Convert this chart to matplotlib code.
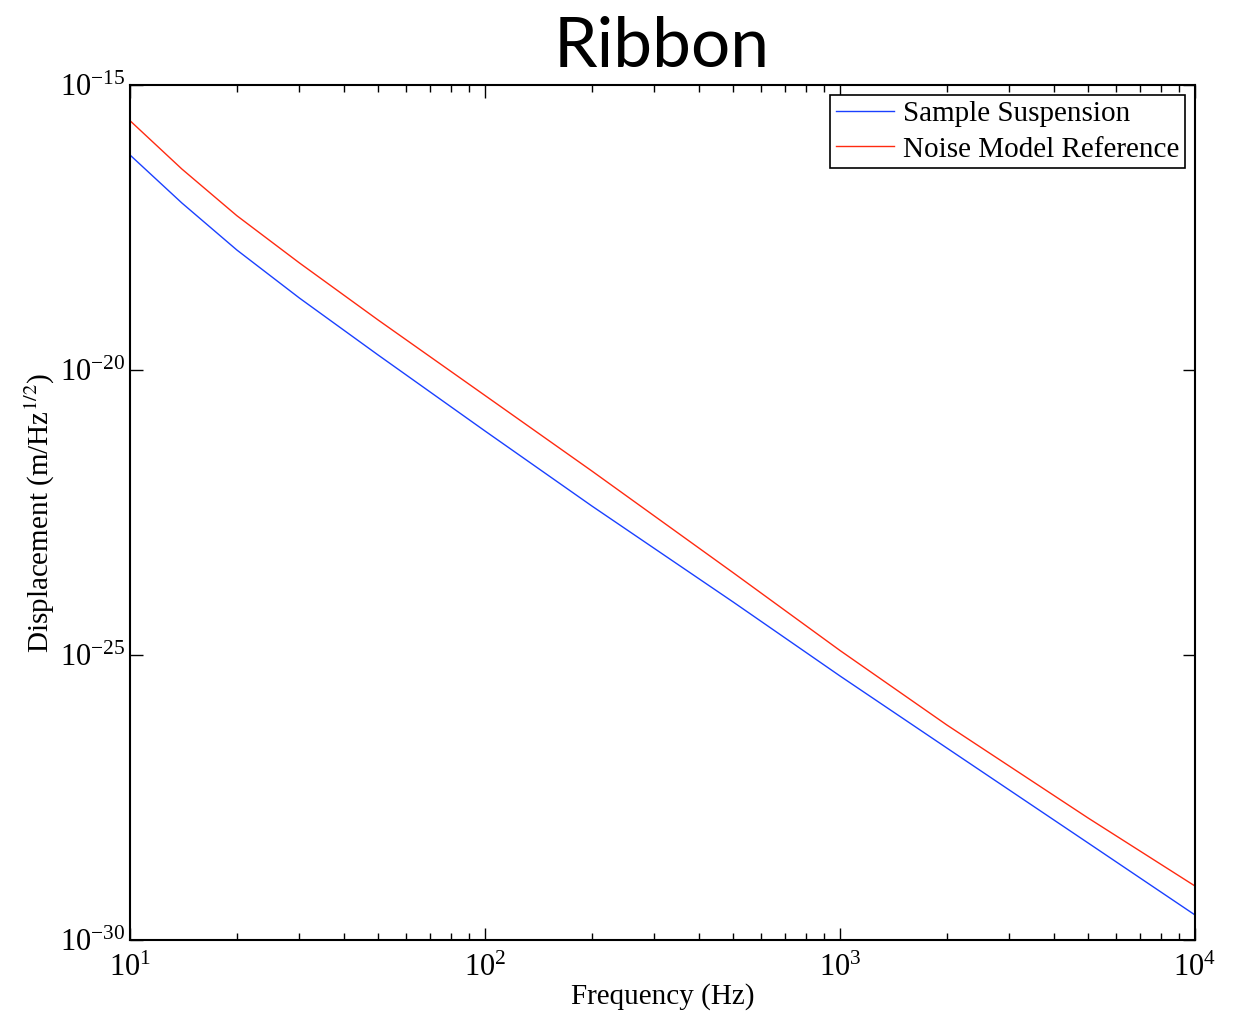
import numpy as np
import matplotlib
matplotlib.use("Agg")
import matplotlib.pyplot as plt
from matplotlib.ticker import LogLocator, NullLocator, FixedLocator, LogFormatterMathtext

# values (log10 of displacement, m/Hz^1/2)
freq = [10, 14, 20, 30, 50, 100, 200, 500, 1000, 2000, 5000, 10000]
sample_log = [-16.228, -17.070, -17.895, -18.737, -19.737, -21.070, -22.386,
              -24.070, -25.368, -26.632, -28.298, -29.561]
model_log = [-15.626, -16.474, -17.293, -18.121, -19.123, -20.447, -21.772,
             -23.556, -24.921, -26.228, -27.860, -29.053]

sample = 10.0 ** np.array(sample_log)
model = 10.0 ** np.array(model_log)

plt.rcParams['font.family'] = ['Liberation Serif', 'DejaVu Serif']
plt.rcParams['mathtext.fontset'] = 'stix'

fig = plt.figure(figsize=(12.39, 10.15), dpi=100)
ax = fig.add_axes([130/1239, 1 - 940/1015, (1195-130)/1239, (940-85)/1015])

ax.loglog(freq, sample, color='#1a40ff', lw=1.0, label='Sample Suspension')
ax.loglog(freq, model, color='#ff2a10', lw=1.0, label='Noise Model Reference')

ax.set_xlim(10, 1e4)
ax.set_ylim(1e-30, 1e-15)
ax.yaxis.set_major_locator(FixedLocator([1e-30, 1e-25, 1e-20, 1e-15]))
ax.yaxis.set_major_formatter(LogFormatterMathtext())
ax.yaxis.set_minor_locator(NullLocator())
ax.xaxis.set_major_locator(LogLocator(base=10))
ax.xaxis.set_minor_locator(LogLocator(base=10, subs=np.arange(2, 10)))

ax.tick_params(which='both', direction='in', top=True, right=True, labelsize=22)
ax.tick_params(which='major', length=9, width=1)
ax.tick_params(which='minor', length=5, width=1)
ax.tick_params(axis='x', pad=10)
for s in ax.spines.values():
    s.set_linewidth(1.5)

ax.set_xlabel('Frequency (Hz)', fontsize=21, labelpad=0)
ax.set_ylabel(r'Displacement (m/Hz$^{1/2}$)', fontsize=21, labelpad=2)

leg = ax.legend(loc='upper right', fontsize=21, fancybox=False, framealpha=1,
                edgecolor='black', borderaxespad=0.35, handlelength=2.0,
                handletextpad=0.3, borderpad=0.2, labelspacing=0.3)
leg.get_frame().set_linewidth(1.2)

fig.text(0.534, 0.953, 'Ribbon', ha='center', va='center', fontsize=50, family='Lato')

fig.savefig('out.png', dpi=100)
